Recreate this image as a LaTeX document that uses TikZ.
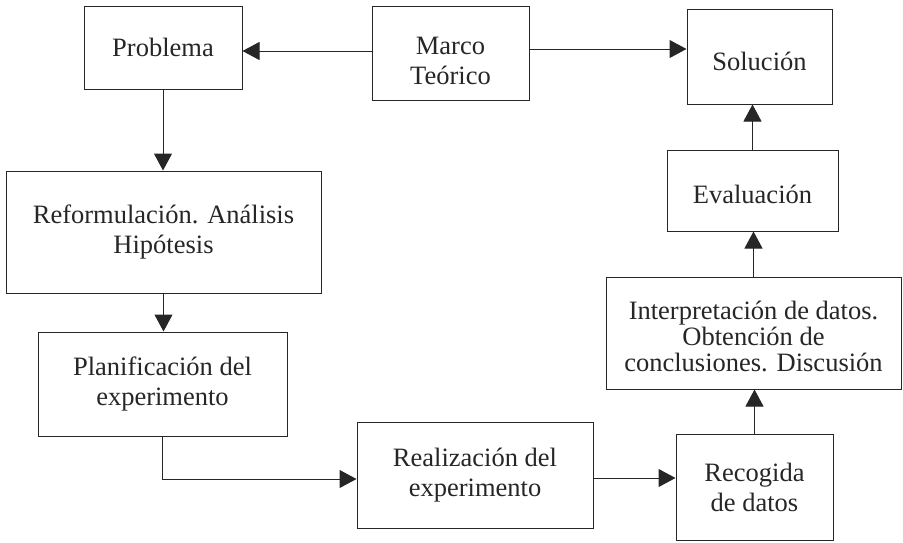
\documentclass[tikz,border=0pt]{standalone}
\usepackage{fontspec}
\setmainfont{Liberation Serif}
\usetikzlibrary{arrows.meta}
\newcommand{\lift}[1]{\rule{0pt}{#1}}
\begin{document}
\begin{tikzpicture}[x=1pt,y=-1pt,
  box/.style={draw=black!85, line width=1pt, rectangle, align=center, inner sep=0pt,
    font=\fontsize{26.5pt}{30pt}\selectfont, text=black!85},
  arr/.style={draw=black!85, line width=1pt, -{Triangle[length=17pt,width=18pt]}}]
\useasboundingbox (0,0) rectangle (903,542);
\node[box, minimum width=158pt, minimum height=83pt] (prob) at (163,47.5) {Problema};
\node[box, minimum width=157pt, minimum height=94pt] (marco) at (450.5,53) {\lift{34pt}Marco\\Teórico};
\node[box, minimum width=145pt, minimum height=95pt] (sol) at (759.5,56.5) {\lift{28.5pt}Solución};
\node[box, minimum width=315pt, minimum height=122pt] (ref) at (163.5,232) {Reformulación. Análisis\\Hipótesis};
\node[box, minimum width=171pt, minimum height=81pt] (eval) at (752.5,190.5) {\lift{26.5pt}Evaluación};
\node[box, minimum width=295pt, minimum height=112pt, font=\fontsize{26.5pt}{26pt}\selectfont] (interp) at (753.5,333) {\lift{24.5pt}Interpretación de datos.\\Obtención de\\conclusiones. Discusión};
\node[box, minimum width=249pt, minimum height=104pt] (plan) at (162.5,384) {Planificación del\\experimento};
\node[box, minimum width=236pt, minimum height=106pt] (real) at (475,475) {Realización del\\experimento};
\node[box, minimum width=157pt, minimum height=106pt] (recog) at (754.5,487) {Recogida\\de datos};
\coordinate (m1) at (0,51);
\coordinate (m2) at (0,49);
\draw[arr] (marco.west |- m1) -- (prob.east |- m1);
\draw[arr] (marco.east |- m2) -- (sol.west |- m2);
\draw[arr] (prob.south) -- (prob.south |- ref.north);
\draw[arr] (ref.south) -- (ref.south |- plan.north);
\draw[arr] (plan.south) |- ([yshift=-4pt]real.west);
\draw[arr] ([yshift=-3pt]real.east) -- ([yshift=-3pt]real.east -| recog.west);
\draw[arr] (recog.north) -- (recog.north |- interp.south);
\draw[arr] (interp.north) -- (interp.north |- eval.south);
\draw[arr] (eval.north) -- (eval.north |- sol.south);
\end{tikzpicture}
\end{document}
